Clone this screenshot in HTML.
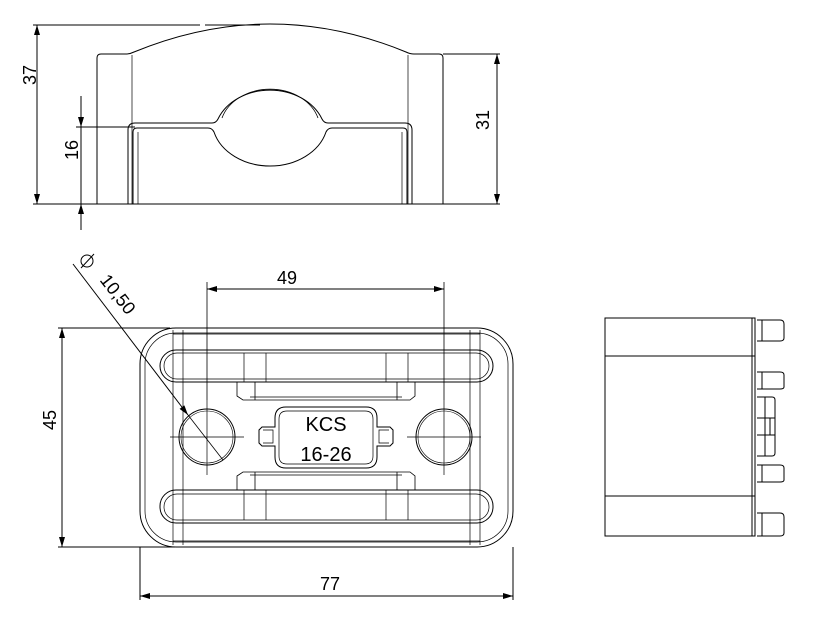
<!DOCTYPE html>
<html><head><style>html,body{margin:0;padding:0;background:#fff}svg{display:block}</style></head>
<body>
<svg width="814" height="622" viewBox="0 0 814 622" xmlns="http://www.w3.org/2000/svg" font-family="Liberation Sans, sans-serif">
<defs>
<marker id="a" viewBox="0 0 10 6" refX="10" refY="3" markerWidth="10" markerHeight="6" orient="auto-start-reverse" markerUnits="userSpaceOnUse"><path d="M0,0 L10,3 L0,6z" fill="#000"/></marker>
</defs>
<g fill="none" stroke="#000" stroke-width="1">
<!-- TOP VIEW -->
<path d="M97,204 L97,58 Q97,54 101,54 L126,54 Q130,54 134,52 Q270,-4 406,52 Q410,54 414,54 L439,54 Q443,54 443,58 L443,204"/>
<path d="M132,55 L132,204 M408,55 L408,204" stroke-width="0.7"/>
<path d="M128,204 L128,130 Q128,123 135,123 L212,123 Q216,123 218,119 A56,46 0 0 1 322,119 Q324,123 328,123 L405,123 Q412,123 412,130 L412,204"/>
<path d="M133,204 L133,132 Q133,128 137,128 L208,128 Q212,128 214,132 A58,46 0 0 0 326,132 Q328,128 332,128 L403,128 Q407,128 407,132 L407,204"/>
<path d="M138,204 L138,132 M402,204 L402,132" stroke-width="0.7"/>
<path d="M222,118 A50,40 0 0 1 318,118" stroke-width="0.8"/>
<!-- top dims -->
<path d="M33,25 L200,25 M205,25 L260,25"/>
<path d="M33,204 L500,204"/>
<path d="M37,25 L37,204" marker-start="url(#a)" marker-end="url(#a)"/>
<path d="M443,54 L500,54"/>
<path d="M497,54 L497,204" marker-start="url(#a)" marker-end="url(#a)"/>
<path d="M76,127 L135,127"/>
<path d="M81,96 L81,127" marker-end="url(#a)"/>
<path d="M81,230 L81,204" marker-end="url(#a)"/>
<path d="M81,127 L81,204"/>
<!-- PLAN VIEW -->
<rect x="140" y="328" width="373" height="219" rx="36"/>
<rect x="145" y="333" width="363" height="209" rx="31" stroke-width="0.7"/>
<path d="M173,330 L173,545 M183,330 L183,545 M470,330 L470,545 M480,330 L480,545" stroke-width="0.7"/>
<path d="M173,334 L480,334 M173,541 L480,541" stroke-width="0.7"/>
<rect x="160" y="350" width="333" height="32" rx="16"/>
<rect x="164" y="353" width="325" height="26" rx="13" stroke-width="0.7"/>
<rect x="160" y="490" width="333" height="33" rx="16"/>
<rect x="164" y="494" width="325" height="26" rx="13" stroke-width="0.7"/>
<path d="M244,353 L244,382 M266,353 L266,382 M386,353 L386,382 M408,353 L408,382" stroke-width="0.7"/>
<path d="M244,490 L244,520 M266,490 L266,520 M386,490 L386,520 M408,490 L408,520" stroke-width="0.7"/>
<path d="M237,382 L237,396 L243,400 L410,400 L415,396 L415,382 M255,382 L255,400 M397,382 L397,400 M250,397 L402,397" stroke-width="0.8"/>
<path d="M237,490 L237,476 L243,472 L410,472 L415,476 L415,490 M255,472 L255,490 M397,472 L397,490 M250,475 L402,475" stroke-width="0.8"/>
<circle cx="207" cy="437" r="28"/><circle cx="207" cy="437" r="26" stroke-width="0.6"/>
<circle cx="444" cy="437" r="28"/><circle cx="444" cy="437" r="26" stroke-width="0.6"/>
<path d="M170,437 L244,437 M207,400 L207,475 M407,437 L481,437 M444,400 L444,475" stroke-width="0.7"/>
<path d="M275,427 L275,418 Q275,407 286,407 L366,407 Q377,407 377,418 L377,427 L390,427 L393,430 L393,443 L390,446 L377,446 L377,457 Q377,468 366,468 L286,468 Q275,468 275,457 L275,446 L262,446 L259,443 L259,430 L262,427 Z"/>
<path d="M279,428 L279,419 Q279,411 287,411 L365,411 Q373,411 373,419 L373,456 Q373,464 365,464 L287,464 Q279,464 279,456 Z" stroke-width="0.7"/>
<path d="M263,430 L273,430 L273,443 L263,443 M389,430 L379,430 L379,443 L389,443" stroke-width="0.7"/>
<!-- plan dims -->
<path d="M207,282 L207,400 M444,282 L444,400" stroke-width="0.8"/>
<path d="M244,289 L207,289" marker-end="url(#a)"/>
<path d="M244,289 L444,289" marker-end="url(#a)"/>
<path d="M58,328 L170,328 M58,547 L175,547"/>
<path d="M62,328 L62,547" marker-start="url(#a)" marker-end="url(#a)"/>
<path d="M140,547 L140,600 M513,547 L513,600"/>
<path d="M140,596 L513,596" marker-start="url(#a)" marker-end="url(#a)"/>
<path d="M73,264 L188,415" marker-end="url(#a)"/>
<path d="M188,415 L223,460" stroke-width="0.8"/>
<!-- SIDE VIEW -->
<rect x="605" y="318" width="150" height="218"/>
<path d="M605,356 L755,356 M605,496 L755,496"/>
<path d="M752,318 L752,536"/>
<path d="M757,320 L780,320 Q784,320 784,324 L784,338 Q784,341 780,341 L757,341 M762,320 L762,341"/>
<path d="M757,372 L780,372 Q784,372 784,375 L784,387 Q784,389 780,389 L757,389 M762,372 L762,389"/>
<path d="M757,465 L780,465 Q784,465 784,468 L784,480 Q784,482 780,482 L757,482 M762,465 L762,482"/>
<path d="M757,513 L780,513 Q784,513 784,517 L784,533 Q784,536 780,536 L757,536 M762,513 L762,536"/>
<path d="M757,397 L772,397 Q775,397 775,400 L775,453 Q775,456 772,456 L757,456 M757,418 L775,418 M757,435 L775,435 M765,397 L765,456 M770,418 L770,435"/>
<!-- diameter symbol -->
<circle cx="87" cy="261" r="6"/>
<path d="M81,268 L94,254"/>
</g>
<g fill="#000" font-size="18" text-anchor="middle">
<text transform="translate(36,75) rotate(-90)">37</text>
<text transform="translate(78,150) rotate(-90)">16</text>
<text transform="translate(489,120) rotate(-90)">31</text>
<text transform="translate(56,420) rotate(-90)">45</text>
<text x="287" y="284">49</text>
<text x="330" y="590">77</text>
<text transform="translate(113,298) rotate(52)">10,50</text>
<text x="326" y="431" font-size="20">KCS</text>
<text x="326" y="461" font-size="20">16-26</text>
</g>
</svg>
</body></html>
